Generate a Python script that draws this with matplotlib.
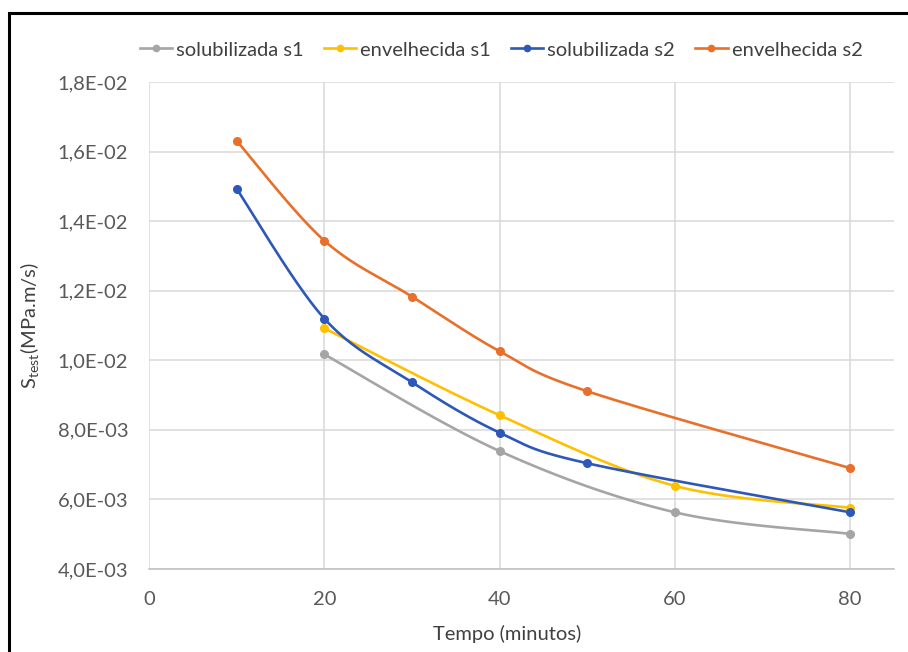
import numpy as np
import matplotlib
matplotlib.use("Agg")
import matplotlib.pyplot as plt
from matplotlib.ticker import FuncFormatter, FixedLocator
from matplotlib.patches import Rectangle

# Test times (minutes) and S_test values (MPa.m/s) per series
t_sol_s1 = [20, 40, 60, 80]
s_sol_s1 = [10.17e-3, 7.39e-3, 5.63e-3, 5.01e-3]

t_env_s1 = [20, 40, 60, 80]
s_env_s1 = [10.92e-3, 8.42e-3, 6.39e-3, 5.76e-3]

t_sol_s2 = [10, 20, 30, 40, 50, 80]
s_sol_s2 = [14.93e-3, 11.20e-3, 9.37e-3, 7.92e-3, 7.04e-3, 5.63e-3]

t_env_s2 = [10, 20, 30, 40, 50, 80]
s_env_s2 = [16.31e-3, 13.44e-3, 11.83e-3, 10.26e-3, 9.11e-3, 6.90e-3]

labels = ["solubilizada s1", "envelhecida s1", "solubilizada s2", "envelhecida s2"]
colors = ["#A5A5A5", "#FFC000", "#2E58B8", "#E8702A"]

x_ticks = [0, 20, 40, 60, 80]
y_ticks = [4e-3, 6e-3, 8e-3, 10e-3, 12e-3, 14e-3, 16e-3, 18e-3]

FONT = "Lato"
FS = 14.5
plt.rcParams["font.family"] = [FONT, "DejaVu Sans"]
plt.rcParams["mathtext.fontset"] = "custom"
plt.rcParams["mathtext.rm"] = FONT
plt.rcParams["mathtext.it"] = FONT


def smooth(xs, ys, n=40):
    """Spreadsheet-style smoothed line: cubic Bezier segments (Catmull-Rom)."""
    x = np.asarray(xs, float)
    y = np.asarray(ys, float)
    px = np.concatenate([[x[0]], x, [x[-1]]])
    py = np.concatenate([[y[0]], y, [y[-1]]])
    out_x, out_y = [], []
    t = np.linspace(0, 1, n)
    for i in range(1, len(px) - 2):
        p0 = np.array([px[i], py[i]])
        p3 = np.array([px[i + 1], py[i + 1]])
        c1 = p0 + (np.array([px[i + 1], py[i + 1]]) - np.array([px[i - 1], py[i - 1]])) / 6
        c2 = p3 - (np.array([px[i + 2], py[i + 2]]) - np.array([px[i], py[i]])) / 6
        b = ((1 - t) ** 3)[:, None] * p0 + (3 * (1 - t) ** 2 * t)[:, None] * c1 \
            + (3 * (1 - t) * t ** 2)[:, None] * c2 + (t ** 3)[:, None] * p3
        out_x.extend(b[:, 0])
        out_y.extend(b[:, 1])
    return out_x, out_y


fig = plt.figure(figsize=(9.08, 6.52), dpi=100)
ax = fig.add_axes([149 / 908, 1 - 569 / 652, (894 - 149) / 908, (569 - 82) / 652])

series = [(t_sol_s1, s_sol_s1), (t_env_s1, s_env_s1),
          (t_sol_s2, s_sol_s2), (t_env_s2, s_env_s2)]
handles = []
for (xs, ys), lab, col in zip(series, labels, colors):
    sx, sy = smooth(xs, ys)
    ax.plot(sx, sy, color=col, lw=1.9, solid_capstyle="round", zorder=3)
    ax.plot(xs, ys, ls="none", marker="o", ms=5.5, color=col, zorder=4)
    h, = ax.plot([], [], color=col, lw=1.9, marker="o", ms=4.5, label=lab)
    handles.append(h)

ax.set_xlim(0, 85)
ax.set_ylim(4e-3, 18e-3)
ax.xaxis.set_major_locator(FixedLocator(x_ticks))
ax.yaxis.set_major_locator(FixedLocator(y_ticks))
ax.yaxis.set_major_formatter(FuncFormatter(lambda v, p: f"{v:.1E}".replace(".", ",")))
ax.grid(True, color="#D9D9D9", lw=1.1, zorder=0)
ax.set_axisbelow(True)
for side in ["top", "right", "left"]:
    ax.spines[side].set_visible(False)
ax.spines["bottom"].set_color("#BFBFBF")
ax.spines["bottom"].set_linewidth(1.1)
ax.tick_params(length=0, labelsize=FS, colors="#595959")
ax.tick_params(axis="y", pad=15)
ax.tick_params(axis="x", pad=16)

ax.set_xlabel("Tempo (minutos)", fontsize=FS, color="#404040", labelpad=13)
ax.xaxis.set_label_coords(0.481, -0.115)
ax.set_ylabel(r"S$_{\mathrm{test}}$(MPa.m/s)", fontsize=FS, color="#404040", labelpad=12)

fig.legend(handles=handles, labels=labels, loc="center", bbox_to_anchor=(0.552, 1 - 50 / 652),
           ncol=4, frameon=False, fontsize=FS, handlelength=1.6, handletextpad=0.2,
           columnspacing=1.0, labelcolor="#404040")

# outer chart frame
fig.patches.append(Rectangle((9 / 908, -0.05), 1.2, 1 - 13 / 652 + 0.05, transform=fig.transFigure,
                             fill=False, edgecolor="black", lw=2.2, zorder=10))

fig.savefig("out.png", dpi=100)
